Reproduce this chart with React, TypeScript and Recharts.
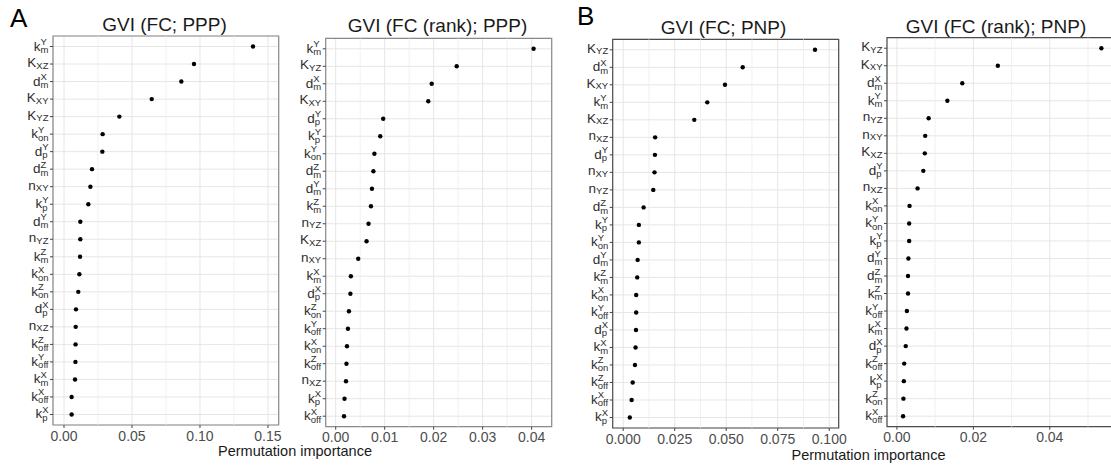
import { ScatterChart, Scatter, XAxis, YAxis, CartesianGrid, ReferenceLine, ReferenceArea } from 'recharts';

const FONT = '"Liberation Sans", Arial, Helvetica, sans-serif';
const MAIN_SIZE = 13.5;
const SUB_SIZE = 9.5;

// Panel A, left: GVI (FC; PPP)
const fcPppLabels = [
  'k_m^Y', 'K_XZ', 'd_m^X', 'K_XY', 'K_YZ', 'k_on^Y', 'd_p^Y', 'd_m^Z', 'n_XY', 'k_p^Y', 'd_m^Y',
  'n_YZ', 'k_m^Z', 'k_on^X', 'k_on^Z', 'd_p^X', 'n_XZ', 'k_off^Z', 'k_off^Y', 'k_m^X', 'k_off^X', 'k_p^X',
];
const fcPppValues = [
  0.139, 0.0956, 0.0863, 0.0645, 0.0407, 0.0284, 0.0282, 0.0206, 0.0194, 0.0179, 0.012,
  0.012, 0.0118, 0.0113, 0.0105, 0.0088, 0.0086, 0.0085, 0.0084, 0.0081, 0.0056, 0.0056,
];

// Panel A, right: GVI (FC (rank); PPP)
const rankPppLabels = [
  'k_m^Y', 'K_YZ', 'd_m^X', 'K_XY', 'd_p^Y', 'k_p^Y', 'k_on^Y', 'd_m^Z', 'd_m^Y', 'k_m^Z', 'n_YZ',
  'K_XZ', 'n_XY', 'k_m^X', 'd_p^X', 'k_on^Z', 'k_off^Y', 'k_on^X', 'k_off^Z', 'n_XZ', 'k_p^X', 'k_off^X',
];
const rankPppValues = [
  0.0404, 0.0247, 0.0196, 0.0189, 0.0097, 0.0091, 0.0079, 0.0077, 0.0074, 0.0072, 0.0067,
  0.0063, 0.0046, 0.0031, 0.003, 0.0027, 0.0025, 0.0023, 0.0022, 0.0021, 0.0018, 0.0017,
];

// Panel B, left: GVI (FC; PNP)
const fcPnpLabels = [
  'K_YZ', 'd_m^X', 'K_XY', 'k_m^Y', 'K_XZ', 'n_XZ', 'd_p^Y', 'n_XY', 'n_YZ', 'd_m^Z', 'k_p^Y',
  'k_on^Y', 'd_m^Y', 'k_m^Z', 'k_on^X', 'k_off^Y', 'd_p^X', 'k_m^X', 'k_on^Z', 'k_off^Z', 'k_off^X', 'k_p^X',
];
const fcPnpValues = [
  0.0931, 0.058, 0.0494, 0.0408, 0.0345, 0.0155, 0.0154, 0.0152, 0.0146, 0.0099, 0.0076,
  0.0076, 0.007, 0.0068, 0.0063, 0.0063, 0.0062, 0.006, 0.0057, 0.0046, 0.0041, 0.0032,
];

// Panel B, right: GVI (FC (rank); PNP)
const rankPnpLabels = [
  'K_YZ', 'K_XY', 'd_m^X', 'k_m^Y', 'n_YZ', 'n_XY', 'K_XZ', 'd_p^Y', 'n_XZ', 'k_on^X', 'k_on^Y',
  'k_p^Y', 'd_m^Y', 'd_m^Z', 'k_m^Z', 'k_off^Y', 'k_m^X', 'd_p^X', 'k_off^Z', 'k_p^X', 'k_on^Z', 'k_off^X',
];
const rankPnpValues = [
  0.0535, 0.0264, 0.0171, 0.0132, 0.0083, 0.0074, 0.0073, 0.0069, 0.0054, 0.0033, 0.0032,
  0.0032, 0.003, 0.0029, 0.0029, 0.0026, 0.0025, 0.0023, 0.0019, 0.0018, 0.0017, 0.0016,
];

const ROW_TICKS = fcPppLabels.map((_, i) => i + 1);

let measureCtx: CanvasRenderingContext2D | null = null;
function textWidth(t: string, size: number) {
  if (!measureCtx) measureCtx = document.createElement('canvas').getContext('2d');
  if (measureCtx) {
    measureCtx.font = `${size}px "Liberation Sans"`;
    return measureCtx.measureText(t).width;
  }
  return t.length * size * 0.6;
}

function parseLabel(s: string) {
  const m = s.match(/^([A-Za-z])(?:_([A-Za-z]+))?(?:\^([A-Za-z]+))?$/);
  return { main: m ? m[1] : s, sub: m?.[2] ?? '', sup: m?.[3] ?? '' };
}

// axisX is the plot's left edge in the chart's own coordinates
function makeYTick(labels: string[], axisX: number) {
  return (props: any) => {
    const { y, payload } = props;
    const lab = labels[Math.round(payload.value) - 1];
    if (!lab) return <g />;
    const { main, sub, sup } = parseLabel(lab);
    const right = axisX - 4.5;
    const w = Math.max(sub ? textWidth(sub, SUB_SIZE) : 0, sup ? textWidth(sup, SUB_SIZE) : 0);
    const sx = right - w;
    const stacked = !!sup;
    return (
      <g fontFamily={FONT} fill="#2e2e2e">
        <line x1={axisX - 3} x2={axisX} y1={y} y2={y} stroke="#444" strokeWidth={1} />
        <text x={sx} y={y + (stacked ? 4 : 3)} textAnchor="end" fontSize={MAIN_SIZE}>
          {main}
        </text>
        {sub && (
          <text x={sx} y={y + (stacked ? 6.5 : 4.5)} fontSize={SUB_SIZE}>
            {sub}
          </text>
        )}
        {sup && (
          <text x={sx} y={y - 1.5} fontSize={SUB_SIZE}>
            {sup}
          </text>
        )}
      </g>
    );
  };
}

function makeXTick(plotBottom: number, digits: number) {
  return (props: any) => {
    const { x, payload } = props;
    return (
      <g>
        <line x1={x} x2={x} y1={plotBottom} y2={plotBottom + 3} stroke="#444" strokeWidth={1} />
        <text
          x={x}
          y={plotBottom + 15.5}
          textAnchor="middle"
          fontSize={14}
          fontFamily={FONT}
          fill="#4d4d4d"
        >
          {Number(payload.value).toFixed(digits)}
        </text>
      </g>
    );
  };
}

interface PanelProps {
  labels: string[];
  values: number[];
  major: number[];
  minor: number[];
  digits: number;
  left: number;
  width: number;
  plotLeft: number;
  plotRight: number;
  plotTop: number;
  plotBottom: number;
  domain: [number, number];
  border: string;
}

const HEIGHT = 467;

function Panel(p: PanelProps) {
  const data = p.labels.map((_, i) => ({ rank: i + 1, value: p.values[i] }));
  const yAxisWidth = p.plotLeft - p.left;
  const xAxisHeight = HEIGHT - p.plotBottom;
  return (
    <div style={{ position: 'absolute', left: p.left, top: 0 }}>
      <ScatterChart
        width={p.width}
        height={HEIGHT}
        margin={{ top: p.plotTop, right: p.left + p.width - p.plotRight, bottom: 0, left: 0 }}
      >
        <CartesianGrid stroke="#e6e6e6" strokeWidth={1} />
        {p.minor.map((v) => (
          <ReferenceLine key={v} x={v} stroke="#eeeeee" strokeWidth={0.8} />
        ))}
        <XAxis
          type="number"
          dataKey="value"
          domain={p.domain}
          allowDataOverflow
          ticks={p.major}
          interval={0}
          axisLine={false}
          tickLine={false}
          height={xAxisHeight}
          tick={makeXTick(p.plotBottom, p.digits)}
        />
        <YAxis
          type="number"
          dataKey="rank"
          domain={[0.4, 22.6]}
          reversed
          allowDataOverflow
          ticks={ROW_TICKS}
          interval={0}
          axisLine={false}
          tickLine={false}
          width={yAxisWidth}
          tick={makeYTick(p.labels, yAxisWidth)}
        />
        <ReferenceArea
          x1={p.domain[0]}
          x2={p.domain[1]}
          y1={0.4}
          y2={22.6}
          fill="none"
          stroke={p.border}
          strokeWidth={1.2}
          ifOverflow="visible"
        />
        <Scatter
          data={data}
          isAnimationActive={false}
          shape={(s: any) => <circle cx={s.cx} cy={s.cy} r={2.2} fill="#000" />}
        />
      </ScatterChart>
    </div>
  );
}

export default function App() {
  return (
    <div
      style={{
        position: 'absolute',
        left: 0,
        top: 0,
        width: 1111,
        height: HEIGHT,
        overflow: 'hidden',
        background: '#fff',
      }}
    >
      <Panel
        labels={fcPppLabels}
        values={fcPppValues}
        major={[0, 0.05, 0.1, 0.15]}
        minor={[0.025, 0.075, 0.125]}
        digits={2}
        left={0}
        width={290}
        plotLeft={53}
        plotRight={278.7}
        plotTop={36}
        plotBottom={425}
        domain={[-0.0081, 0.1579]}
        border="#8a8a8a"
      />
      <Panel
        labels={rankPppLabels}
        values={rankPppValues}
        major={[0, 0.01, 0.02, 0.03, 0.04]}
        minor={[0.005, 0.015, 0.025, 0.035]}
        digits={2}
        left={285}
        width={290}
        plotLeft={325.7}
        plotRight={551.7}
        plotTop={38.3}
        plotBottom={426.7}
        domain={[-0.00204, 0.0441]}
        border="#8a8a8a"
      />
      <Panel
        labels={fcPnpLabels}
        values={fcPnpValues}
        major={[0, 0.025, 0.05, 0.075, 0.1]}
        minor={[0.0125, 0.0375, 0.0625, 0.0875]}
        digits={3}
        left={560}
        width={300}
        plotLeft={612.7}
        plotRight={838.7}
        plotTop={39.3}
        plotBottom={428}
        domain={[-0.0051, 0.1046]}
        border="#4d4d4d"
      />
      <Panel
        labels={rankPnpLabels}
        values={rankPnpValues}
        major={[0, 0.02, 0.04]}
        minor={[0.01, 0.03, 0.05]}
        digits={2}
        left={845}
        width={290}
        plotLeft={887}
        plotRight={1113}
        plotTop={37.7}
        plotBottom={426.7}
        domain={[-0.0026, 0.05654]}
        border="#4d4d4d"
      />
      <svg
        width={1111}
        height={HEIGHT}
        style={{ position: 'absolute', left: 0, top: 0, pointerEvents: 'none' }}
        fontFamily={FONT}
      >
        <text x={10} y={27} fontSize={26} fill="#000">A</text>
        <text x={577} y={25} fontSize={26} fill="#000">B</text>
        <text x={164.5} y={31} fontSize={19} textAnchor="middle" fill="#1a1a1a">GVI (FC; PPP)</text>
        <text x={437.5} y={32} fontSize={19} textAnchor="middle" fill="#1a1a1a">GVI (FC (rank); PPP)</text>
        <text x={723.5} y={33.5} fontSize={19} textAnchor="middle" fill="#1a1a1a">GVI (FC; PNP)</text>
        <text x={996} y={33} fontSize={19} textAnchor="middle" fill="#1a1a1a">GVI (FC (rank); PNP)</text>
        <text x={295} y={456} fontSize={14.5} textAnchor="middle" fill="#1a1a1a">Permutation importance</text>
        <text x={868.5} y={460} fontSize={14.5} textAnchor="middle" fill="#1a1a1a">Permutation importance</text>
      </svg>
    </div>
  );
}
